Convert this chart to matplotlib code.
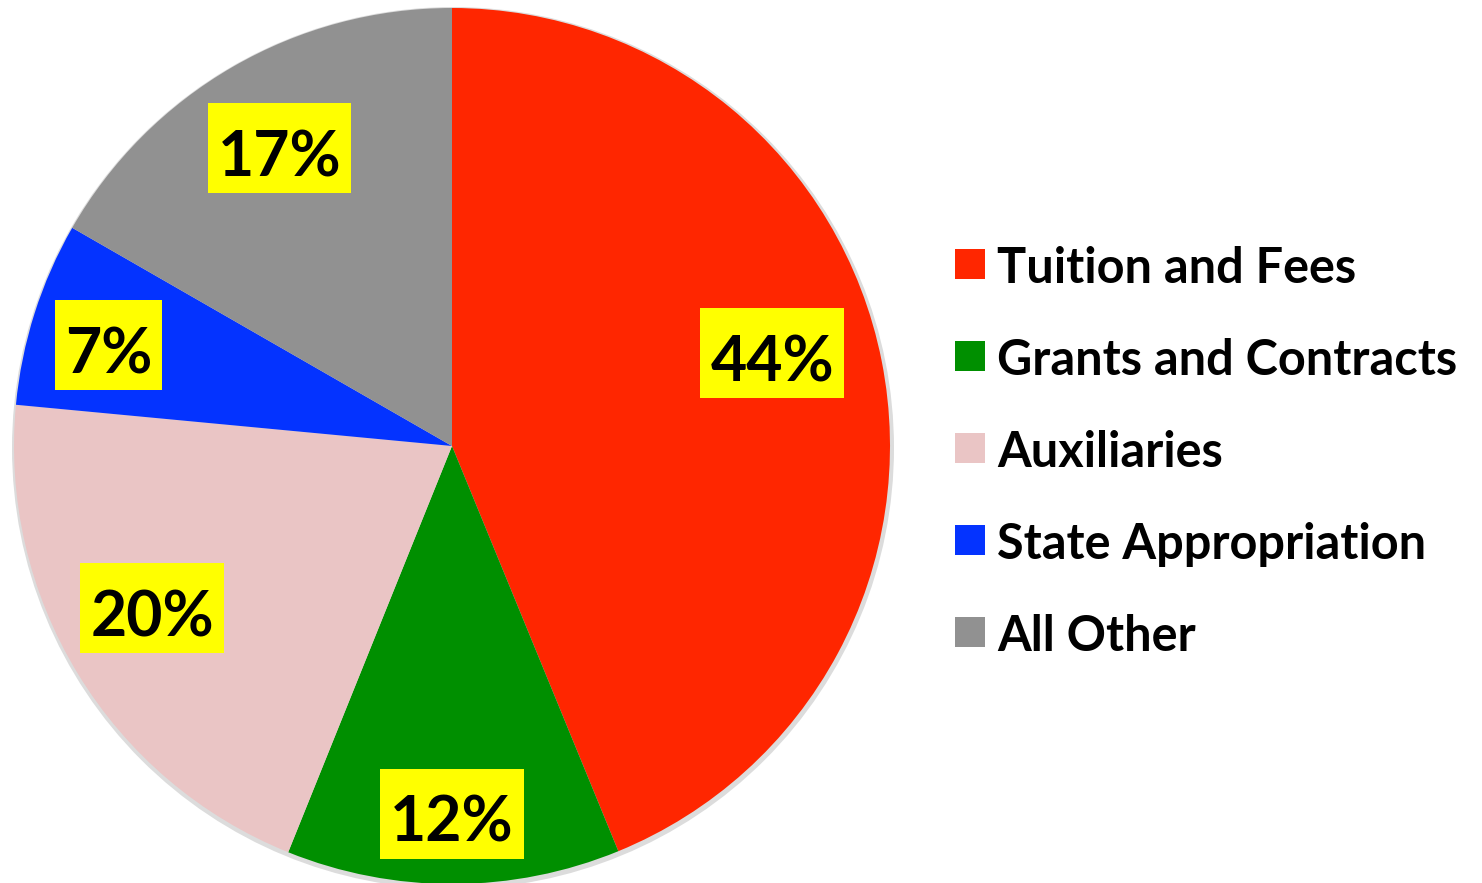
import numpy as np
import matplotlib.pyplot as plt
from matplotlib.patches import Rectangle, Circle

# revenue share by source (percent)
categories = ['Tuition and Fees', 'Grants and Contracts', 'Auxiliaries',
              'State Appropriation', 'All Other']
shares = [43.8, 12.3, 20.4, 6.8, 16.7]
colors = ['#FF2600', '#008F00', '#EAC5C5', '#0433FF', '#919191']

# label placement tweaks (fraction of radius, angle shift in degrees)
label_r = [0.761, 0.840, 0.778, 0.817, 0.786]
label_shift = [5.0, -0.2, -2.9, 1.3, 0.0]

W, H = 1482, 883
plt.rcParams['font.family'] = ['Lato', 'DejaVu Sans']

fig = plt.figure(figsize=(W / 100, H / 100), dpi=100)
ax = fig.add_axes([0, 0, 1, 1])

cx, cy, R = 452, H - 446, 438

# soft shadow behind the pie
ax.add_patch(Circle((cx + 1, cy - 2), R + 3, color='#dcdcdc', zorder=0, lw=0))

wedges, _ = ax.pie(shares, colors=colors, startangle=90, counterclock=False,
                   center=(cx, cy), radius=R,
                   wedgeprops=dict(linewidth=0))
for w in wedges:
    w.set_zorder(1)

ax.set_xlim(0, W)
ax.set_ylim(0, H)
ax.set_aspect('equal')
ax.axis('off')

renderer = fig.canvas.get_renderer()
for w, val, r, sh in zip(wedges, shares, label_r, label_shift):
    ang = np.deg2rad((w.theta1 + w.theta2) / 2 + sh)
    x = cx + r * R * np.cos(ang)
    y = cy + r * R * np.sin(ang)
    t = ax.text(x, y - 28, f'{round(val)}%', ha='center', va='baseline',
                fontsize=45, fontweight='bold', color='black', zorder=3)
    tw = t.get_window_extent(renderer).width
    bw, bh = tw + 20, 90
    ax.add_patch(Rectangle((x - bw / 2, y - bh / 2), bw, bh,
                           color='#FFFF00', lw=0, zorder=2))

# legend drawn as rows of square swatches and labels
for i, (name, c) in enumerate(zip(categories, colors)):
    base = H - (283 + 92 * i)
    ax.add_patch(Rectangle((955, base + 4), 30, 30, color=c, lw=0, zorder=3))
    ax.text(997, base, name, ha='left', va='baseline', fontsize=35,
            fontweight='bold', color='black', zorder=3)

fig.savefig('out.png', dpi=100, facecolor='white')
